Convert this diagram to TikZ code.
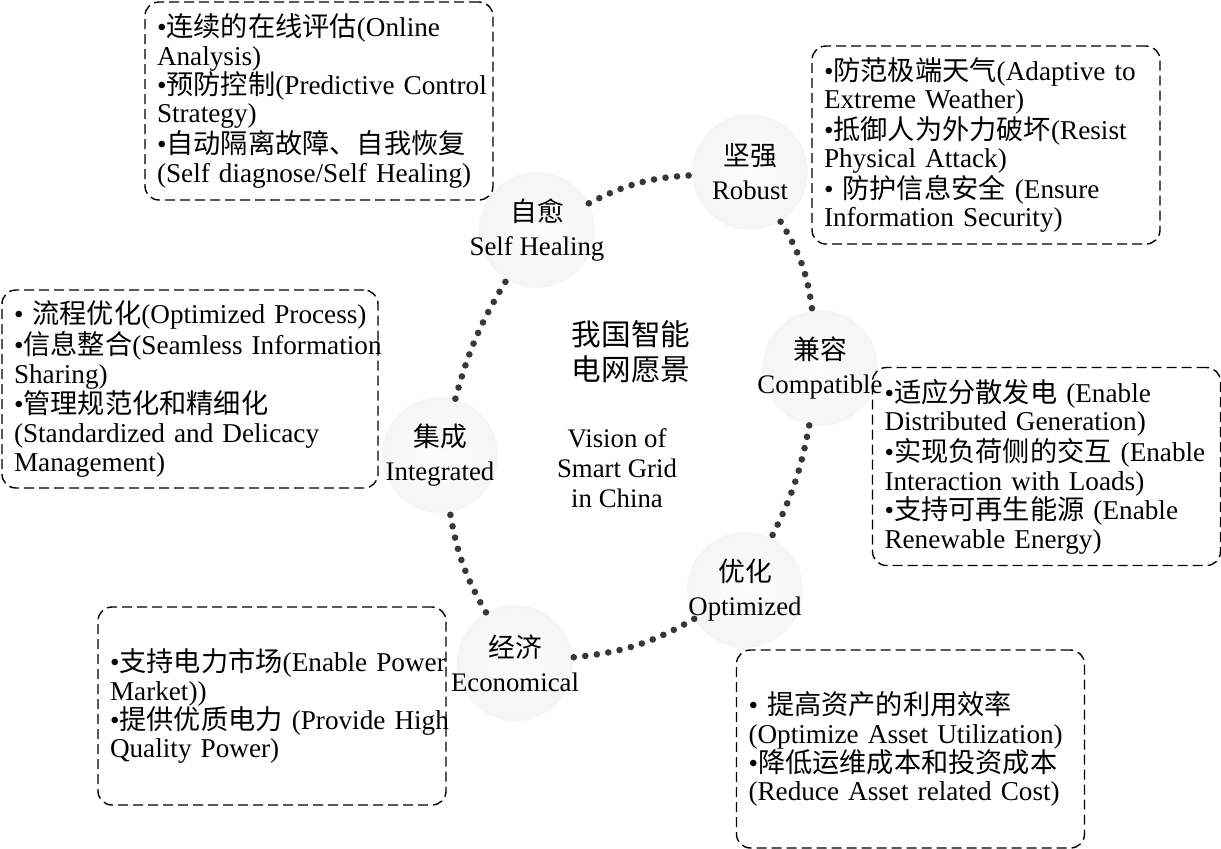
\documentclass[tikz,border=0pt]{standalone}
\usepackage{fontspec}
\setmainfont{Liberation Serif}
\newfontfamily\cjk{Noto Sans CJK SC}
\usetikzlibrary{positioning}
\pgfdeclareradialshading{ringshade}{\pgfpoint{0bp}{0bp}}{color(0bp)=(black!1); color(26bp)=(black!4); color(42bp)=(black!20); color(47bp)=(black!19); color(50bp)=(black!10)}
\lineskiplimit=-100pt
\hyphenpenalty=10000
\exhyphenpenalty=10000

\begin{document}
\begin{tikzpicture}[x=0.5pt,y=-0.5pt,
  ring/.style={circle,shading=ringshade,minimum size=58pt,inner sep=0pt},
  ringtext/.style={align=center,font=\fontsize{13.4}{17}\selectfont},
  infobox/.style={draw,dash pattern=on 5pt off 2.5pt,line width=0.7pt,rounded corners=7pt,
    minimum height=99pt,text width=162pt,inner xsep=6pt,align=left,
    font=\fontsize{13.6}{14.4}\selectfont},
  dotline/.style={line width=3.3pt,line cap=round,dash pattern=on 0pt off 5.8pt,black!78}]
\useasboundingbox (0,0) rectangle (1221,848);

% the six properties
\node[ring] (heal) at (537,230) {};
\node[ring] (robust) at (750,172) {};
\node[ring] (compat) at (820,368) {};
\node[ring] (optim) at (745,590) {};
\node[ring] (econ) at (515,663) {};
\node[ring] (integ) at (440,455) {};

\draw[dotline] (heal) to[bend left=12] (robust);
\draw[dotline] (robust) to[bend left=12] (compat);
\draw[dotline] (compat) to[bend left=8] (optim);
\draw[dotline] (optim) to[bend left=12] (econ);
\draw[dotline] (econ) to[bend left=10] (integ);
\draw[dotline] (integ) to[bend left=8] (heal);

\node[ringtext] (heal-t) at (heal) {{\cjk 自愈}\\Self Healing};
\node[ringtext] (robust-t) at (robust) {{\cjk 坚强}\\Robust};
\node[ringtext] (compat-t) at (compat) {{\cjk 兼容}\\Compatible};
\node[ringtext] (optim-t) at (optim) {{\cjk 优化}\\Optimized};
\node[ringtext] (econ-t) at (econ) {{\cjk 经济}\\Economical};
\node[ringtext] (integ-t) at (integ) {{\cjk 集成}\\Integrated};

% centre
\node[align=center,font=\cjk\fontsize{14.8}{17.5}\selectfont] (vision-cn) at (631,352) {我国智能\\电网愿景};
\node[align=center,font=\fontsize{13.4}{15}\selectfont] (vision-en) at (617,468) {Vision of\\Smart Grid\\in China};

% boxes
\node[infobox] (heal-b) at (319,101) {•{\cjk 连续的在线评估}(Online\\ Analysis)\\
  •{\cjk 预防控制}(Predictive~Control\\ Strategy)\\
  •{\cjk 自动隔离故障、自我恢复}\\ (Self~diagnose/Self~Healing)};
\node[infobox,font=\fontsize{13.6}{14}\selectfont] (robust-b) at (986,145) {•{\cjk 防范极端天气}(Adaptive~to\\ Extreme Weather)\\
  •{\cjk 抵御人为外力破坏}(Resist\\ Physical Attack)\\
  •~{\cjk 防护信息安全}~(Ensure\\ Information Security)};
\node[infobox,text width=176pt] (integ-b) at (190,389) {•~{\cjk 流程优化}(Optimized~Process)\\
  •{\cjk 信息整合}(Seamless~Information\\ Sharing)\\
  •{\cjk 管理规范化和精细化}\\ (Standardized~and~Delicacy\\ Management)};
\node[infobox] (compat-b) at (1046.5,466.5) {•{\cjk 适应分散发电}~(Enable\\ Distributed Generation)\\
  •{\cjk 实现负荷侧的交互}~(Enable\\ Interaction with Loads)\\
  •{\cjk 支持可再生能源}~(Enable\\ Renewable Energy)};
\node[infobox] (econ-b) at (272,706) {•{\cjk 支持电力市场}(Enable~Power\\ Market))\\
  •{\cjk 提供优质电力}~(Provide~High\\ Quality Power)};
\node[infobox] (optim-b) at (910.5,749) {•~{\cjk 提高资产的利用效率}\\ (Optimize~Asset~Utilization)\\
  •{\cjk 降低运维成本和投资成本}\\ (Reduce~Asset~related~Cost)};
\end{tikzpicture}
\end{document}
